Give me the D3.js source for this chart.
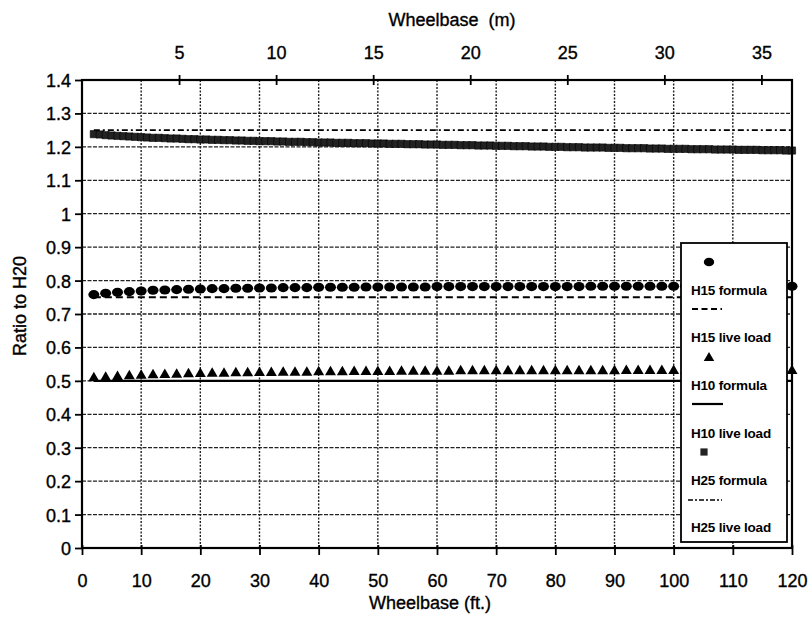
<!DOCTYPE html>
<html>
<head>
<meta charset="utf-8">
<script src="https://cdn.jsdelivr.net/npm/d3@7/dist/d3.min.js"></script>
<style>
  body { margin: 0; background: #fff; }
  svg { display: block; }
  text { font-family: "Liberation Sans", Arial, sans-serif; fill: #000; }
  .heavy { stroke: #000; stroke-width: 0.35px; }
</style>
</head>
<body>
<svg id="chart" width="809" height="622"></svg>
<script>
// ---- data ----
const ftTicks = [0, 10, 20, 30, 40, 50, 60, 70, 80, 90, 100, 110, 120];
const meterTicks = [5, 10, 15, 20, 25, 30, 35];
const ratioTicks = [0, 0.1, 0.2, 0.3, 0.4, 0.5, 0.6, 0.7, 0.8, 0.9, 1, 1.1, 1.2, 1.3, 1.4];
const M_PER_FT = 0.3048;

// wheelbase (ft) for the formula series
const formulaX = d3.range(2, 121, 2);
const h25FormulaX = d3.range(2, 121, 1);

const h15Formula = [
  0.758, 0.762, 0.765, 0.767, 0.769, 0.771, 0.772, 0.773, 0.774, 0.775,
  0.776, 0.776, 0.777, 0.777, 0.778, 0.778, 0.779, 0.779, 0.779, 0.780,
  0.780, 0.780, 0.780, 0.781, 0.781, 0.781, 0.781, 0.781, 0.781, 0.782,
  0.782, 0.782, 0.782, 0.782, 0.782, 0.782, 0.782, 0.782, 0.782, 0.782,
  0.782, 0.782, 0.783, 0.783, 0.783, 0.783, 0.783, 0.783, 0.783, 0.783,
  0.783, 0.783, 0.783, 0.783, 0.783, 0.783, 0.783, 0.783, 0.783, 0.783
];
const h10Formula = [
  0.508, 0.510, 0.512, 0.514, 0.516, 0.517, 0.518, 0.519, 0.520, 0.521,
  0.522, 0.522, 0.523, 0.523, 0.524, 0.524, 0.525, 0.525, 0.525, 0.526,
  0.526, 0.526, 0.527, 0.527, 0.527, 0.527, 0.528, 0.528, 0.528, 0.528,
  0.528, 0.529, 0.529, 0.529, 0.529, 0.529, 0.529, 0.529, 0.529, 0.529,
  0.529, 0.529, 0.529, 0.529, 0.529, 0.530, 0.530, 0.530, 0.530, 0.530,
  0.530, 0.530, 0.530, 0.530, 0.530, 0.530, 0.530, 0.530, 0.530, 0.530
];
const h25Formula = [
  1.238, 1.237, 1.235, 1.234,
  1.233, 1.232, 1.231, 1.230, 1.229,
  1.228, 1.227, 1.227, 1.226, 1.225,
  1.225, 1.224, 1.223, 1.223, 1.222,
  1.222, 1.221, 1.221, 1.220, 1.220, 1.219, 1.219, 1.218, 1.218, 1.217,
  1.217, 1.217, 1.216, 1.216, 1.215, 1.215, 1.215, 1.214, 1.214, 1.213,
  1.213, 1.213, 1.212, 1.212, 1.212, 1.211, 1.211, 1.211, 1.210, 1.210,
  1.210, 1.209, 1.209, 1.209, 1.208, 1.208, 1.208, 1.207, 1.207, 1.207,
  1.206, 1.206, 1.206, 1.205, 1.205, 1.205, 1.204, 1.204, 1.204, 1.203,
  1.203, 1.203, 1.202, 1.202, 1.202, 1.201, 1.201, 1.201, 1.200, 1.200,
  1.200, 1.199, 1.199, 1.199, 1.198, 1.198, 1.198, 1.198, 1.197, 1.197,
  1.197, 1.196, 1.196, 1.196, 1.196, 1.195, 1.195, 1.195, 1.194, 1.194,
  1.194, 1.194, 1.193, 1.193, 1.193, 1.193, 1.192, 1.192, 1.192, 1.192,
  1.191, 1.191, 1.191, 1.191, 1.190, 1.190, 1.190, 1.190, 1.189, 1.189
];

// live-load ratios are constant across the wheelbase range
const liveLoadX = [2, 120];
const h15Live = [0.75, 0.75];
const h10Live = [0.5, 0.5];
const h25Live = [1.25, 1.25];

const legendLabels = ["H15 formula", "H15 live load", "H10 formula", "H10 live load", "H25 formula", "H25 live load"];

// ---- layout ----
const svg = d3.select("#chart");
const plot = { left: 82, right: 792, top: 80, bottom: 548 };

const x = d3.scaleLinear().domain([0, 120]).range([plot.left, plot.right]);
const xm = d3.scaleLinear().domain([0, 120 * M_PER_FT]).range([plot.left, plot.right]);
const y = d3.scaleLinear().domain([0, 1.4]).range([plot.bottom, plot.top]);

const gridColor = "#222";

// grid lines
const grid = svg.append("g");
grid.selectAll("line.h")
  .data(ratioTicks.filter(v => v > 0 && v < 1.4))
  .join("line")
  .attr("x1", plot.left).attr("x2", plot.right)
  .attr("y1", d => y(d)).attr("y2", d => y(d))
  .attr("stroke", gridColor).attr("stroke-width", 1.3)
  .attr("stroke-dasharray", "4,1.5");
grid.selectAll("line.v")
  .data(ftTicks.filter(v => v > 0 && v < 120))
  .join("line")
  .attr("x1", d => x(d)).attr("x2", d => x(d))
  .attr("y1", plot.top).attr("y2", plot.bottom)
  .attr("stroke", gridColor).attr("stroke-width", 1.4)
  .attr("stroke-dasharray", "2,1.5");

// live-load lines
const liveLine = d3.line().x(d => x(d[0])).y(d => y(d[1]));
function drawLive(vals, dash, width) {
  svg.append("path")
    .datum(liveLoadX.map((v, i) => [v, vals[i]]))
    .attr("d", liveLine)
    .attr("fill", "none")
    .attr("stroke", "#000")
    .attr("stroke-width", width)
    .attr("stroke-dasharray", dash);
}
drawLive(h25Live, "6,3,2,3", 1.7);
drawLive(h15Live, "7,4", 1.9);
drawLive(h10Live, null, 2.4);

// formula markers
const sym = (type, size) => d3.symbol().type(type).size(size)();
svg.append("g").selectAll("path")
  .data(h25FormulaX.map((v, i) => [v, h25Formula[i]]))
  .join("path")
  .attr("transform", d => `translate(${x(d[0])},${y(d[1])})`)
  .attr("d", sym(d3.symbolSquare, 52))
  .attr("fill", "#222").attr("stroke", "#000").attr("stroke-width", 0.6);

svg.append("g").selectAll("path")
  .data(formulaX.map((v, i) => [v, h15Formula[i]]))
  .join("path")
  .attr("transform", d => `translate(${x(d[0])},${y(d[1])}) scale(1.15,0.95)`)
  .attr("d", sym(d3.symbolCircle, 72))
  .attr("fill", "#000");

svg.append("g").selectAll("path")
  .data(formulaX.map((v, i) => [v, h10Formula[i]]))
  .join("path")
  .attr("transform", d => `translate(${x(d[0])},${y(d[1])})`)
  .attr("d", sym(d3.symbolTriangle, 52))
  .attr("fill", "#000");

// plot frame
svg.append("rect")
  .attr("x", plot.left).attr("y", plot.top)
  .attr("width", plot.right - plot.left).attr("height", plot.bottom - plot.top)
  .attr("fill", "none").attr("stroke", "#000").attr("stroke-width", 2.2);

// axes
const fontSize = 18;

const bottomAxis = svg.append("g")
  .attr("transform", `translate(0,${plot.bottom})`)
  .call(d3.axisBottom(x).tickValues(ftTicks).tickFormat(d3.format("d")).tickSize(6));
bottomAxis.select(".domain").remove();
bottomAxis.selectAll(".tick line").attr("y1", -3).attr("y2", 7).attr("stroke-width", 1.8);
bottomAxis.selectAll(".tick text")
  .attr("y", 39).attr("dy", null).attr("class", "heavy")
  .attr("font-size", fontSize).attr("font-family", null).attr("fill", "#000");

const topAxis = svg.append("g")
  .attr("transform", `translate(0,${plot.top})`)
  .call(d3.axisTop(xm).tickValues(meterTicks).tickFormat(d3.format("d")).tickSize(6));
topAxis.select(".domain").remove();
topAxis.selectAll(".tick line").attr("y1", -5).attr("y2", 5).attr("stroke-width", 1.8);
topAxis.selectAll(".tick text")
  .attr("y", -21).attr("dy", null).attr("class", "heavy")
  .attr("font-size", fontSize).attr("font-family", null).attr("fill", "#000");

const leftAxis = svg.append("g")
  .attr("transform", `translate(${plot.left},0)`)
  .call(d3.axisLeft(y).tickValues(ratioTicks).tickFormat(d => d3.format("")(+d.toFixed(1))).tickSize(6));
leftAxis.select(".domain").remove();
leftAxis.selectAll(".tick line").attr("x1", -7).attr("x2", 0).attr("stroke-width", 1.8);
leftAxis.selectAll(".tick text")
  .attr("x", -11).attr("dy", "0.36em").attr("class", "heavy")
  .attr("font-size", fontSize).attr("font-family", null).attr("fill", "#000");

// axis titles
svg.append("text")
  .attr("x", 452).attr("y", 26).attr("class", "heavy")
  .attr("text-anchor", "middle").attr("font-size", fontSize)
  .attr("xml:space", "preserve")
  .text("Wheelbase  (m)");
svg.append("text")
  .attr("x", 430).attr("y", 609).attr("class", "heavy")
  .attr("text-anchor", "middle").attr("font-size", fontSize)
  .text("Wheelbase (ft.)");
svg.append("text")
  .attr("transform", "translate(26,306) rotate(-90)").attr("class", "heavy")
  .attr("text-anchor", "middle").attr("font-size", fontSize)
  .text("Ratio to H20");

// legend
const lg = svg.append("g");
lg.append("rect")
  .attr("x", 681).attr("y", 243).attr("width", 106).attr("height", 299)
  .attr("fill", "#fff").attr("stroke", "#000").attr("stroke-width", 1.8);

const legendY = [262, 309, 358, 404, 452, 500];
const textY = [295, 342, 390, 438, 485, 532];
// symbols / line samples
lg.append("path").attr("transform", `translate(709,${legendY[0]}) scale(1.15,0.95)`).attr("d", sym(d3.symbolCircle, 64)).attr("fill", "#000");
lg.append("line").attr("x1", 692).attr("x2", 722).attr("y1", legendY[1]).attr("y2", legendY[1])
  .attr("stroke", "#000").attr("stroke-width", 1.9).attr("stroke-dasharray", "6,3.5");
lg.append("path").attr("transform", `translate(709,${legendY[2]})`).attr("d", sym(d3.symbolTriangle, 48)).attr("fill", "#000");
lg.append("line").attr("x1", 692).attr("x2", 723).attr("y1", legendY[3]).attr("y2", legendY[3])
  .attr("stroke", "#000").attr("stroke-width", 2.2);
lg.append("path").attr("transform", `translate(704,${legendY[4]})`).attr("d", sym(d3.symbolSquare, 52)).attr("fill", "#222");
lg.append("line").attr("x1", 688).attr("x2", 722).attr("y1", legendY[5]).attr("y2", legendY[5])
  .attr("stroke", "#000").attr("stroke-width", 1.7).attr("stroke-dasharray", "5,2,2,2");

lg.selectAll("text.lab")
  .data(legendLabels)
  .join("text")
  .attr("x", 691).attr("y", (d, i) => textY[i])
  .attr("font-size", 13.5).attr("font-weight", "bold")
  .attr("letter-spacing", "-0.2")
  .text(d => d);
</script>
</body>
</html>
